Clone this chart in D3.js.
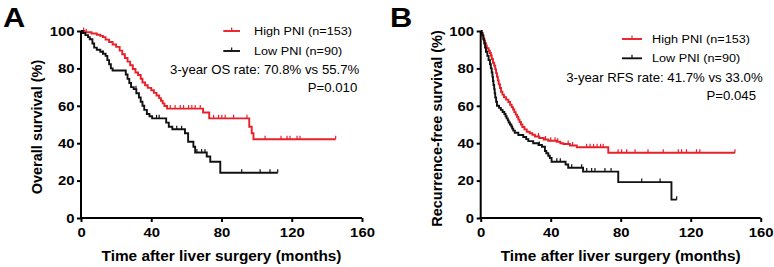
<!DOCTYPE html>
<html><head><meta charset="utf-8">
<script src="https://cdn.jsdelivr.net/npm/d3@7"></script>
<style>
body{margin:0;background:#fff}
svg{display:block}
text{font-family:"Liberation Sans",Arial,sans-serif}
</style>
</head><body>
<svg id="c" width="774" height="267"></svg>
<script>
// ---------- data ----------
const xTicks = [0, 40, 80, 120, 160];
const yTicks = [0, 20, 40, 60, 80, 100];
const seriesNames = ["High PNI (n=153)", "Low PNI (n=90)"];
const panelLetters = ["A", "B"];
const yTitles = ["Overall survival (%)", "Recurrence-free survival (%)"];
const xTitle = "Time after liver surgery (months)";
const rateTexts = ["3-year OS rate: 70.8% vs 55.7%", "3-year RFS rate: 41.7% vs 33.0%"];
const pTexts = ["P=0.010", "P=0.045"];

// Panel A: overall survival (event times, survival after event, censor times)
const osHighT = [2,6,9,11,12.5,14,16,18,20,22,23.5,25,26.5,28,29.5,31,32.5,34,35,36.5,38,40,41.5,43,44.5,45.5,46.5,47.5,49,69.5,73,95.8,97.2,98.2];
const osHighS = [99.3,98.7,98,97.4,96.7,95.4,94.1,92.8,91.5,89.5,87.6,85.6,83.6,81.7,79.7,77.8,76.5,74.5,72.5,71,69.6,68.3,66.9,65.5,64.1,62.7,61.3,59.9,58.5,56.4,53.3,48.8,45.3,42.1];
const osHighCens = [1.5,3,50.8,53.6,56.5,58.4,61.3,63.1,65,67.9,75.5,78.3,80.2,82.1,86.9,94.5,104.8,113.9,117.3,119,123,124.7,145];
const osLowT = [1,2.5,4,5,6.5,7.5,9,11,12.5,14,15,16,17,18,25.5,26.5,27.5,28.5,30,31.5,33,34,35,36,37.5,39,40.5,48.5,50,52,59.2,61,64,65,71.6,73.6,79.3];
const osLowS = [98.9,97.8,96.7,95.6,93.3,91.1,90,88.9,87.8,86.7,84.4,82.2,80,78.9,76.7,74.4,72.2,70,68.9,66.7,64.4,62.2,60,57.8,55.6,54.4,53.3,51,48.8,47.5,45.3,40.8,38.1,35,32.9,30.1,24.2];
const osLowCens = [12.5,31.3,43,44.5,54.5,57.3,66,68.7,70.6,91.5,102,107.6,112];

// Panel B: recurrence-free survival
const rfsHighT = [0.5,1,1.5,2,2.5,3,3.5,4.5,5.2,5.8,6.3,7,7.7,8.3,8.8,9.3,9.8,10.3,11,11.6,12.4,13.3,14.5,15.8,16.8,17.7,18.5,19.2,20,20.8,21.5,22.2,23,23.8,25,26.3,28,29.5,31,33.5,36,38.6,43.4,45.5,47.2,51,54.9,72.9];
const rfsHighS = [98.7,97.4,96.1,94.8,93.5,92.2,90.8,89.5,88.2,86.9,85,83,81.5,79.5,77.5,75.5,73.5,71.5,69.5,67.5,66,64.6,63.3,62,60.6,59.3,58,56.6,55.3,54,52.6,51.3,50,48.7,47.4,46.1,45.3,44.5,43.6,42.8,42,41.3,40.8,40,39.6,38.8,37.8,34.9];
const rfsHighCens = [33,37,40,42.5,44,50,52.5,60.5,62.5,64.5,66.5,68.5,70,78.5,80.5,83.4,88.2,95.6,104.3,112.9,114.8,117.6,123.3,125.2,145.3];
const rfsLowT = [0.5,1,1.5,2,2.5,3,3.8,4.5,5.3,5.8,6.3,6.7,7,7.3,7.7,8,8.3,8.8,9.3,10.5,11.5,12.5,13.5,14.2,14.8,15.5,16,16.7,17.5,18,18.6,19.5,21.5,24.3,26,27.2,30,33,35,36.7,37.5,38.6,39.5,40.5,48.5,50,58.5,78.6,109];
const rfsLowS = [98.9,97.8,95.6,93.3,91.1,88.9,86.7,84.4,82.2,80,77.8,75.6,73.3,71.1,68.9,66.7,64.4,62.2,60,58.9,57.8,56.7,55.6,54.4,53.3,52.2,51.1,50,48.9,47.8,46.7,45.6,44.4,43.3,42.2,41.1,40,39,38.1,35.8,34.6,33.3,32.1,30.1,28.6,26.9,24.8,19.2,9.8];
const rfsLowCens = [33.5,43.5,45.5,52,57.7,60.6,63.4,65.3,71,74.5,92,102.5,112];

// ---------- drawing ----------
const RED = "#e8202a", BLACK = "#111";
const SX = 1.1; // horizontal stretch of the reference text
const svg = d3.select("#c");

function stepAt(T, S, t) {
  let s = 100;
  for (let i = 0; i < T.length; i++) { if (T[i] <= t) s = S[i]; else break; }
  return s;
}

function hText(g, x, y, str, size, weight, anchor, dy) {
  return g.append("text")
    .attr("transform", `translate(${x},${y}) scale(${SX},1)`)
    .attr("text-anchor", anchor || "start")
    .attr("dy", dy || 0)
    .attr("font-size", size).attr("font-weight", weight || "normal")
    .attr("fill", "#000").text(str);
}

const panels = [
  {left: 81, right: 362, letterX: 3, yTitleX: 41.5, yTitleY: 127,
   series: [[osHighT, osHighS, osHighCens], [osLowT, osLowS, osLowCens]],
   leg: {x1: 223.3, x2: 240, tx: 254, y: [31, 51], rateX: 359.3, rateY: 70, pX: 357.3, pY: 87.3}},
  {left: 480.7, right: 760.7, letterX: 390, yTitleX: 441.5, yTitleY: 128.5,
   series: [[rfsHighT, rfsHighS, rfsHighCens], [rfsLowT, rfsLowS, rfsLowCens]],
   leg: {x1: 622, x2: 642, tx: 652, y: [39, 58.3], rateX: 762.7, rateY: 77.3, pX: 756, pY: 95.7}}
];
const plotTop = 31, plotBottom = 218;
const colors = [RED, BLACK];

panels.forEach((p, pi) => {
  const g = svg.append("g");
  const x = d3.scaleLinear().domain([0, 160]).range([p.left, p.right]);
  const y = d3.scaleLinear().domain([0, 100]).range([plotBottom, plotTop]);

  // curves
  p.series.forEach((s, si) => {
    const [T, S, C] = s;
    const end = Math.max(d3.max(C), d3.max(T));
    const pts = [[0, 100]].concat(T.map((t, i) => [t, S[i]]));
    pts.push([end, S[S.length - 1]]);
    const line = d3.line().x(d => x(d[0])).y(d => y(d[1])).curve(d3.curveStepAfter);
    g.append("path").attr("d", line(pts)).attr("fill", "none")
      .attr("stroke", colors[si]).attr("stroke-width", 1.9);
    g.selectAll(null).data(C).enter().append("line")
      .attr("x1", d => x(d)).attr("x2", d => x(d))
      .attr("y1", d => y(stepAt(T, S, d))).attr("y2", d => y(stepAt(T, S, d)) - 3.5)
      .attr("stroke", colors[si]).attr("stroke-width", 1.2);
  });

  // axes
  const ax = g.append("g").attr("transform", `translate(0,${plotBottom})`)
    .call(d3.axisBottom(x).tickValues(xTicks).tickSize(4).tickPadding(5).tickSizeOuter(0));
  const ay = g.append("g").attr("transform", `translate(${p.left},0)`)
    .call(d3.axisLeft(y).tickValues(yTicks).tickSize(4).tickPadding(2).tickSizeOuter(0));
  [ax, ay].forEach(a => {
    a.attr("font-family", null).attr("font-size", null);
    a.select(".domain").attr("stroke", "#000").attr("stroke-width", 2);
    a.selectAll(".tick line").attr("stroke", "#000").attr("stroke-width", 2);
    a.selectAll(".tick text").attr("font-size", 13.5).attr("font-weight", "bold")
      .attr("fill", "#000").attr("transform", `scale(${SX},1)`);
  });
  ax.select(".domain").attr("d", `M${p.left - 1},0H${p.right}`);
  ay.select(".domain").attr("d", `M0,${plotBottom + 1}V${plotTop}`);

  // titles
  hText(g, (p.left + p.right) / 2, 261, xTitle, 14, "bold", "middle");
  g.append("text").attr("transform", `translate(${p.yTitleX},${p.yTitleY}) rotate(-90)`)
    .attr("text-anchor", "middle").attr("font-size", 14.5).attr("font-weight", "bold")
    .attr("fill", "#000").text(yTitles[pi]);
  hText(g, p.letterX, 27, panelLetters[pi], 28, "bold", "start");

  // legend
  const L = p.leg;
  seriesNames.forEach((nm, si) => {
    const ly = L.y[si];
    g.append("line").attr("x1", L.x1).attr("x2", L.x2).attr("y1", ly).attr("y2", ly)
      .attr("stroke", colors[si]).attr("stroke-width", 1.9);
    g.append("line").attr("x1", (L.x1 + L.x2) / 2).attr("x2", (L.x1 + L.x2) / 2)
      .attr("y1", ly).attr("y2", ly - 3.5).attr("stroke", colors[si]).attr("stroke-width", 1.2);
    hText(g, L.tx, ly, nm, 11.5, "normal", "start", "0.35em");
  });
  hText(g, L.rateX, L.rateY, rateTexts[pi], 12, "normal", "end", "0.35em");
  hText(g, L.pX, L.pY, pTexts[pi], 12, "normal", "end", "0.35em");
});
</script>
</body></html>
